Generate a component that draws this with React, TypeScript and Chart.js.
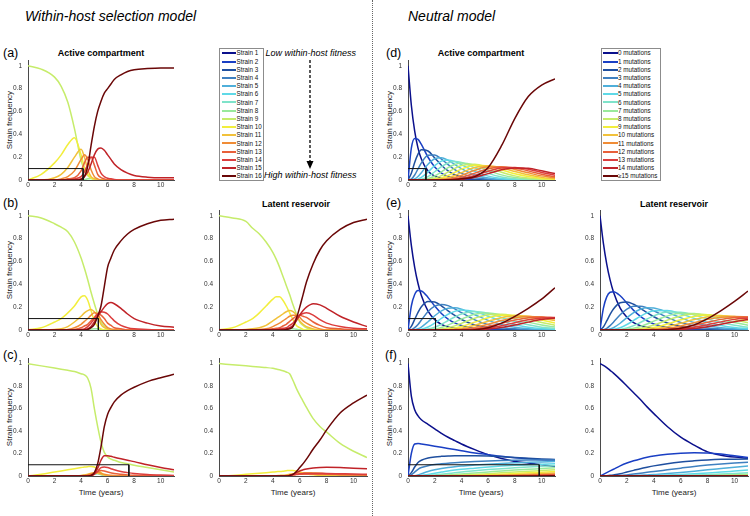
import React, { useEffect, useRef } from "react";
import { Chart, registerables } from "chart.js";
Chart.register(...registerables);

const FONT = '"Liberation Sans", Arial, Helvetica, sans-serif';

// ---------- axes / ticks ----------
const X_TICKS = [0, 2, 4, 6, 8, 10];
const Y_TICKS = [0, 0.2, 0.4, 0.6, 0.8, 1];
const Y_TICK_LABELS = ["0", "0.2", "0.4", "0.6", "0.8", "1"];
const X_MAX = 11;
const Y_MAX = 1.05;

// ---------- colours (strain 1..16 / 0..>=15 mutations) ----------
const COLORS = [
  "#0b108c", "#1a3fc4", "#1f4f9f", "#3f80c0", "#4fafda", "#5fd9e7", "#7fe3ca", "#99e99b",
  "#c6ec6b", "#f2ee3d", "#f2c13a", "#f08c36", "#e8603a", "#dc3d3d", "#c02328", "#6a0707",
];
const STRAIN_LABELS = [
  "Strain 1", "Strain 2", "Strain 3", "Strain 4", "Strain 5", "Strain 6", "Strain 7", "Strain 8",
  "Strain 9", "Strain 10", "Strain 11", "Strain 12", "Strain 13", "Strain 14", "Strain 15", "Strain 16",
];
const MUT_LABELS = [
  "0 mutations", "1 mutations", "2 mutations", "3 mutations", "4 mutations", "5 mutations",
  "6 mutations", "7 mutations", "8 mutations", "9 mutations", "10 mutations", "11 mutations",
  "12 mutations", "13 mutations", "14 mutations", "\u226515 mutations",
];

// ---------- time grids ----------
const TS = [0, 1, 2, 2.5, 3, 3.5, 4, 4.25, 4.5, 4.75, 5, 5.25, 5.5, 5.75, 6, 6.25, 6.5, 7, 7.5, 8, 9, 10, 11];
const TN = [0, 0.25, 0.5, 0.75, 1, 1.5, 2, 2.5, 3, 3.5, 4, 5, 6, 7, 8, 9, 10, 11];

// ---------- drop lines (frequency 0.1) ----------
const DROP_LEVEL = 0.1;
const DROP_A = 4.15;
const DROP_B = 5.3;
const DROP_C = 7.6;
const DROP_D = 1.34;
const DROP_E = 2.06;
const DROP_F = 9.82;

// ---------- (a) selection, active ----------
const aS8 = [0, 0, 0, 0, 0, 0, 0, .004, .01, .014, .01, .004, 0, 0, 0, 0, 0, 0, 0, 0, 0, 0, 0];
const aS9 = [1, .97, .9, .82, .68, .45, .17, .09, .04, .015, .005, 0, 0, 0, 0, 0, 0, 0, 0, 0, 0, 0, 0];
const aS10 = [0, .05, .15, .22, .31, .37, .22, .11, .05, .02, .005, 0, 0, 0, 0, 0, 0, 0, 0, 0, 0, 0, 0];
const aS11 = [0, 0, .02, .05, .11, .2, .27, .2, .09, .03, .01, 0, 0, 0, 0, 0, 0, 0, 0, 0, 0, 0, 0];
const aS12 = [0, 0, 0, .01, .03, .08, .18, .22, .18, .09, .03, .01, 0, 0, 0, 0, 0, 0, 0, 0, 0, 0, 0];
const aS13 = [0, 0, 0, 0, .01, .02, .08, .15, .2, .2, .13, .05, .02, .01, 0, 0, 0, 0, 0, 0, 0, 0, 0];
const aS14 = [0, 0, 0, 0, 0, .01, .03, .07, .14, .2, .2, .13, .06, .03, .015, .01, .005, 0, 0, 0, 0, 0, 0];
const aS15 = [0, 0, 0, 0, 0, 0, .01, .03, .07, .14, .22, .27, .28, .26, .22, .18, .14, .09, .06, .04, .025, .02, .02];
const aS16 = [0, 0, 0, 0, 0, 0, .005, .03, .12, .3, .47, .6, .69, .76, .8, .84, .88, .92, .95, .965, .975, .98, .98];

// ---------- (b) selection, active ----------
const bS8 = [0, 0, 0, 0, 0, 0, 0, 0, .003, .008, .012, .01, .004, 0, 0, 0, 0, 0, 0, 0, 0, 0, 0];
const bS9 = [1, .98, .93, .9, .86, .77, .63, .54, .44, .33, .23, .14, .07, .03, .01, 0, 0, 0, 0, 0, 0, 0, 0];
const bS10 = [0, .02, .07, .1, .15, .21, .29, .3, .26, .17, .08, .03, .01, 0, 0, 0, 0, 0, 0, 0, 0, 0, 0];
const bS11 = [0, 0, .005, .01, .03, .07, .12, .15, .17, .18, .16, .12, .05, .02, .01, 0, 0, 0, 0, 0, 0, 0, 0];
const bS12 = [0, 0, 0, 0, .005, .02, .05, .075, .1, .13, .15, .14, .09, .05, .02, .01, .005, 0, 0, 0, 0, 0, 0];
const bS13 = [0, 0, 0, 0, 0, .005, .02, .035, .05, .08, .11, .14, .13, .1, .06, .04, .02, .01, 0, 0, 0, 0, 0];
const bS14 = [0, 0, 0, 0, 0, 0, .005, .01, .03, .06, .1, .14, .16, .155, .14, .11, .08, .04, .02, .01, .005, 0, 0];
const bS15 = [0, 0, 0, 0, 0, 0, 0, .005, .01, .03, .07, .12, .16, .2, .23, .24, .23, .19, .14, .1, .06, .035, .025];
const bS16 = [0, 0, 0, 0, 0, 0, 0, 0, .005, .02, .05, .12, .21, .38, .55, .63, .7, .78, .84, .88, .93, .96, .97];

// ---------- (b) selection, latent ----------
const bLS8 = [0, 0, 0, 0, 0, 0, 0, 0, 0, .003, .006, .01, .01, .006, .002, 0, 0, 0, 0, 0, 0, 0, 0];
const bLS9 = [1, .98, .95, .89, .84, .77, .68, .62, .55, .47, .39, .31, .22, .14, .07, .04, .02, .005, 0, 0, 0, 0, 0];
const bLS10 = [0, .02, .07, .1, .15, .21, .27, .29, .29, .26, .21, .15, .09, .04, .02, .005, 0, 0, 0, 0, 0, 0, 0];
const bLS11 = [0, 0, .005, .01, .02, .04, .08, .1, .12, .14, .16, .17, .16, .13, .08, .05, .03, .01, 0, 0, 0, 0, 0];
const bLS12 = [0, 0, 0, 0, .005, .01, .03, .045, .06, .08, .1, .12, .13, .13, .11, .08, .06, .03, .01, 0, 0, 0, 0];
const bLS13 = [0, 0, 0, 0, 0, .005, .01, .015, .02, .035, .05, .075, .1, .12, .13, .12, .11, .07, .04, .02, .01, 0, 0];
const bLS14 = [0, 0, 0, 0, 0, 0, 0, .005, .01, .015, .02, .04, .06, .1, .13, .145, .15, .13, .09, .06, .03, .015, .01];
const bLS15 = [0, 0, 0, 0, 0, 0, 0, 0, 0, .005, .01, .02, .04, .08, .13, .17, .2, .23, .22, .19, .12, .07, .03];
const bLS16 = [0, 0, 0, 0, 0, 0, 0, 0, 0, 0, .005, .01, .03, .1, .2, .31, .42, .58, .7, .78, .88, .94, .97];

// ---------- (c) selection, active ----------
const cS7 = [0, 0, 0, 0, 0, 0, 0, 0, 0, .005, .015, .02, .01, .003, 0, 0, 0, 0, 0, 0, 0, 0, 0];
const cS9 = [1, .98, .96, .95, .94, .93, .91, .9, .87, .78, .6, .44, .3, .21, .17, .15, .14, .12, .11, .095, .075, .055, .035];
const cS10 = [0, .015, .035, .045, .055, .065, .075, .08, .083, .085, .08, .06, .03, .01, .003, 0, 0, 0, 0, 0, 0, 0, 0];
const cS11 = [0, 0, 0, 0, 0, .002, .005, .01, .015, .025, .03, .025, .015, .008, .004, .002, .001, 0, 0, 0, 0, 0, 0];
const cS12 = [0, 0, 0, 0, 0, 0, .002, .005, .01, .02, .03, .035, .025, .015, .01, .006, .004, .002, 0, 0, 0, 0, 0];
const cS13 = [0, 0, 0, 0, 0, 0, 0, .002, .005, .012, .025, .04, .05, .045, .035, .028, .022, .015, .01, .007, .004, .002, .001];
const cS14 = [0, 0, 0, 0, 0, 0, 0, 0, .002, .005, .015, .04, .075, .08, .075, .065, .055, .04, .03, .022, .013, .008, .005];
const cS15 = [0, 0, 0, 0, 0, 0, 0, 0, 0, .003, .02, .07, .14, .18, .18, .175, .167, .153, .14, .128, .1, .076, .055];
const cS16 = [0, 0, 0, 0, 0, 0, 0, 0, 0, .005, .03, .11, .26, .44, .55, .61, .66, .72, .76, .79, .84, .875, .905];

// ---------- (c) selection, latent ----------
const cLS9 = [1, .99, .98, .975, .97, .965, .958, .952, .945, .937, .925, .91, .85, .78, .72, .665, .61, .51, .44, .39, .29, .22, .165];
const cLS10 = [0, .005, .015, .02, .025, .03, .035, .038, .04, .043, .047, .05, .05, .045, .035, .028, .02, .01, .007, .005, .002, 0, 0];
const cLS11 = [0, 0, 0, 0, 0, 0, .002, .003, .005, .007, .01, .015, .02, .025, .028, .03, .03, .027, .024, .02, .015, .01, .008];
const cLS12 = [0, 0, 0, 0, 0, 0, 0, 0, 0, .002, .004, .008, .012, .015, .017, .018, .018, .017, .016, .015, .013, .011, .01];
const cLS13 = [0, 0, 0, 0, 0, 0, 0, 0, 0, 0, .002, .005, .01, .013, .015, .015, .015, .015, .014, .013, .012, .011, .01];
const cLS14 = [0, 0, 0, 0, 0, 0, 0, 0, 0, 0, 0, .003, .01, .015, .02, .023, .025, .025, .024, .023, .02, .017, .015];
const cLS15 = [0, 0, 0, 0, 0, 0, 0, 0, 0, 0, 0, .005, .015, .03, .045, .055, .063, .072, .076, .077, .075, .07, .065];
const cLS16 = [0, 0, 0, 0, 0, 0, 0, 0, 0, 0, 0, .005, .015, .04, .075, .11, .15, .24, .32, .41, .56, .65, .72];

// ---------- (d) neutral, active ----------
const dK0 = [1, .654, .427, .279, .183, .078, .033, .014, .006, .003, .001, 0, 0, 0, 0, 0, 0, 0];
const dK1 = [0, .278, .363, .356, .311, .199, .114, .061, .031, .016, .008, .002, 0, 0, 0, 0, 0, 0];
const dK2 = [0, .059, .154, .227, .264, .254, .193, .129, .079, .046, .026, .007, .002, 0, 0, 0, 0, 0];
const dK3 = [0, .008, .044, .097, .15, .216, .219, .183, .135, .091, .058, .021, .007, .002, .001, 0, 0, 0];
const dK4 = [0, .001, .009, .031, .064, .138, .186, .194, .172, .136, .099, .044, .017, .006, .002, .001, 0, 0];
const dK5 = [0, 0, .002, .008, .022, .07, .126, .165, .175, .162, .135, .075, .034, .013, .005, .002, 0, 0];
const dK6 = [0, 0, 0, .002, .006, .03, .072, .117, .149, .161, .153, .107, .058, .027, .011, .004, .001, 0];
const dK7 = [0, 0, 0, 0, .001, .011, .035, .071, .109, .136, .149, .129, .085, .045, .021, .009, .003, .001];
const dK8 = [0, 0, 0, 0, 0, .003, .015, .038, .069, .102, .126, .138, .108, .068, .036, .017, .007, .003];
const dK9 = [0, 0, 0, 0, 0, .001, .006, .018, .039, .067, .095, .13, .122, .09, .054, .03, .014, .006];
const dK10 = [0, 0, 0, 0, 0, 0, .002, .008, .02, .04, .065, .11, .125, .107, .074, .045, .023, .011];
const dK11 = [0, 0, 0, 0, 0, 0, .001, .003, .009, .022, .04, .085, .116, .115, .092, .063, .036, .019];
const dK12 = [0, 0, 0, 0, 0, 0, 0, .001, .004, .011, .023, .06, .098, .114, .104, .08, .05, .029];
const dK13 = [0, 0, 0, 0, 0, 0, 0, 0, .002, .005, .012, .04, .077, .105, .109, .094, .066, .042];
const dK14 = [0, 0, 0, 0, 0, 0, 0, 0, .001, .002, .006, .024, .056, .089, .105, .103, .08, .056];
const dK15 = [0, 0, 0, 0, 0, 0, 0, 0, .002, .004, .01, .03, .11, .3, .54, .73, .83, .885];

// ---------- (e) neutral, active ----------
const eK0 = [1, .741, .549, .407, .301, .165, .091, .05, .027, .015, .008, .002, .001, 0, 0, 0, 0, 0];
const eK1 = [0, .21, .31, .345, .342, .285, .21, .145, .096, .062, .039, .015, .005, .002, .001, 0, 0, 0];
const eK2 = [0, .031, .093, .155, .204, .25, .245, .212, .168, .127, .092, .044, .019, .008, .003, .001, 0, 0];
const eK3 = [0, .003, .02, .049, .087, .161, .209, .224, .213, .185, .152, .089, .047, .022, .01, .004, .002, .001];
const eK4 = [0, 0, .003, .011, .026, .072, .125, .168, .191, .194, .182, .134, .084, .047, .024, .012, .005, .002];
const eK5 = [0, 0, 0, .002, .006, .026, .06, .101, .138, .163, .175, .161, .12, .078, .046, .025, .013, .006];
const eK6 = [0, 0, 0, 0, .001, .008, .024, .05, .083, .114, .14, .161, .145, .11, .074, .045, .025, .014];
const eK7 = [0, 0, 0, 0, 0, .002, .008, .022, .043, .069, .096, .138, .149, .132, .101, .069, .044, .026];
const eK8 = [0, 0, 0, 0, 0, 0, .002, .008, .019, .036, .058, .103, .134, .138, .121, .094, .066, .042];
const eK9 = [0, 0, 0, 0, 0, 0, .001, .003, .008, .017, .031, .069, .107, .129, .129, .112, .087, .062];
const eK10 = [0, 0, 0, 0, 0, 0, 0, .001, .003, .007, .015, .041, .077, .108, .124, .121, .105, .082];
const eK11 = [0, 0, 0, 0, 0, 0, 0, 0, .001, .003, .006, .023, .05, .083, .108, .119, .114, .098];
const eK12 = [0, 0, 0, 0, 0, 0, 0, 0, 0, .001, .003, .011, .03, .058, .087, .107, .114, .108];
const eK13 = [0, 0, 0, 0, 0, 0, 0, 0, 0, 0, .001, .005, .017, .038, .064, .089, .106, .11];
const eK14 = [0, 0, 0, 0, 0, 0, 0, 0, 0, 0, 0, .002, .009, .023, .044, .069, .091, .104];
const eK15 = [0, 0, 0, 0, 0, 0, 0, 0, 0, 0, 0, .003, .02, .06, .12, .19, .27, .37];

// ---------- (e) neutral, latent ----------
const rK0 = [1, .76, .577, .438, .333, .192, .111, .064, .037, .021, .012, .004, .001, 0, 0, 0, 0, 0];
const rK1 = [0, .19, .29, .33, .335, .3, .235, .172, .12, .081, .053, .023, .009, .004, .001, .001, 0, 0];
const rK2 = [0, .026, .079, .136, .184, .238, .245, .225, .19, .152, .116, .061, .03, .013, .006, .003, .001, 0];
const rK3 = [0, .003, .015, .038, .068, .133, .183, .207, .208, .193, .168, .111, .065, .035, .017, .008, .004, .002];
const rK4 = [0, 0, .002, .009, .02, .059, .108, .152, .182, .195, .192, .156, .108, .066, .038, .02, .01, .005];
const rK5 = [0, 0, 0, .001, .005, .02, .048, .084, .12, .15, .169, .171, .142, .102, .066, .04, .022, .012];
const rK6 = [0, 0, 0, 0, .001, .005, .017, .038, .066, .096, .124, .157, .156, .131, .097, .065, .041, .024];
const rK7 = [0, 0, 0, 0, 0, .001, .006, .015, .031, .053, .078, .123, .147, .144, .122, .093, .065, .042];
const rK8 = [0, 0, 0, 0, 0, 0, .002, .005, .013, .026, .043, .085, .122, .139, .134, .115, .089, .063];
const rK9 = [0, 0, 0, 0, 0, 0, 0, .002, .005, .011, .021, .052, .089, .119, .132, .126, .109, .085];
const rK10 = [0, 0, 0, 0, 0, 0, 0, 0, .002, .004, .009, .029, .059, .091, .116, .125, .119, .103];
const rK11 = [0, 0, 0, 0, 0, 0, 0, 0, .001, .002, .004, .014, .035, .064, .093, .112, .119, .113];
const rK12 = [0, 0, 0, 0, 0, 0, 0, 0, 0, .001, .001, .007, .019, .041, .068, .093, .109, .114];
const rK13 = [0, 0, 0, 0, 0, 0, 0, 0, 0, 0, .001, .003, .01, .024, .046, .071, .093, .106];
const rK14 = [0, 0, 0, 0, 0, 0, 0, 0, 0, 0, 0, .001, .005, .013, .029, .05, .073, .092];
const rK15 = [0, 0, 0, 0, 0, 0, 0, 0, 0, 0, 0, .003, .015, .045, .1, .17, .25, .34];

// ---------- (f) neutral, active ----------
const fK0 = [1, .71, .59, .535, .5, .46, .42, .38, .345, .315, .285, .235, .19, .155, .13, .115, .1, .085];
const fK1 = [0, .2, .285, .29, .285, .275, .265, .255, .245, .235, .225, .205, .19, .175, .163, .153, .145, .14];
const fK2 = [0, .03, .08, .12, .14, .16, .17, .175, .178, .18, .18, .18, .178, .172, .165, .158, .152, .147];
const fK3 = [0, .01, .035, .06, .075, .092, .102, .108, .113, .118, .122, .128, .133, .137, .14, .142, .143, .143];
const fK4 = [0, 0, .003, .01, .02, .04, .055, .066, .075, .082, .088, .097, .105, .112, .117, .122, .125, .128];
const fK5 = [0, 0, 0, .002, .005, .014, .025, .035, .045, .053, .06, .07, .08, .088, .095, .1, .105, .11];
const fK6 = [0, 0, 0, 0, .001, .004, .01, .016, .022, .029, .035, .047, .057, .065, .073, .08, .086, .092];
const fK7 = [0, 0, 0, 0, 0, .001, .003, .006, .01, .014, .018, .027, .036, .045, .053, .06, .066, .073];
const fK8 = [0, 0, 0, 0, 0, 0, .001, .002, .004, .006, .008, .014, .021, .028, .035, .042, .048, .055];
const fK9 = [0, 0, 0, 0, 0, 0, 0, .001, .001, .002, .003, .006, .011, .016, .022, .028, .034, .04];
const fK10 = [0, 0, 0, 0, 0, 0, 0, 0, 0, .001, .001, .003, .005, .008, .012, .017, .022, .027];
const fK11 = [0, 0, 0, 0, 0, 0, 0, 0, 0, 0, 0, .001, .002, .004, .006, .009, .013, .017];
const fK12 = [0, 0, 0, 0, 0, 0, 0, 0, 0, 0, 0, 0, .001, .002, .003, .005, .007, .01];
const fK13 = [0, 0, 0, 0, 0, 0, 0, 0, 0, 0, 0, 0, 0, .001, .001, .002, .004, .006];
const fK14 = [0, 0, 0, 0, 0, 0, 0, 0, 0, 0, 0, 0, 0, 0, .001, .001, .002, .003];
const fK15 = [0, 0, 0, 0, 0, 0, 0, 0, 0, 0, 0, 0, 0, 0, 0, 0, .001, .002];

// ---------- (f) neutral, latent ----------
const gK0 = [1, .985, .965, .94, .915, .86, .8, .74, .68, .615, .555, .44, .345, .275, .215, .185, .168, .158];
const gK1 = [0, .015, .03, .045, .06, .09, .115, .135, .152, .166, .177, .193, .203, .207, .205, .195, .18, .165];
const gK2 = [0, .001, .003, .006, .01, .02, .035, .05, .065, .078, .09, .11, .125, .135, .143, .148, .15, .152];
const gK3 = [0, 0, 0, .001, .002, .005, .01, .017, .025, .033, .04, .055, .07, .085, .097, .107, .115, .122];
const gK4 = [0, 0, 0, 0, 0, .001, .003, .005, .007, .01, .013, .022, .032, .043, .055, .066, .077, .088];
const gK5 = [0, 0, 0, 0, 0, 0, .001, .001, .002, .003, .004, .008, .013, .019, .027, .035, .044, .053];
const gK6 = [0, 0, 0, 0, 0, 0, 0, 0, 0, .001, .001, .003, .005, .008, .012, .017, .023, .03];
const gK7 = [0, 0, 0, 0, 0, 0, 0, 0, 0, 0, 0, .001, .002, .003, .005, .008, .011, .015];
const gK8 = [0, 0, 0, 0, 0, 0, 0, 0, 0, 0, 0, 0, .001, .001, .002, .003, .005, .007];
const gK9 = [0, 0, 0, 0, 0, 0, 0, 0, 0, 0, 0, 0, 0, 0, .001, .001, .002, .003];
const gKrest = [0, 0, 0, 0, 0, 0, 0, 0, 0, 0, 0, 0, 0, 0, 0, 0, 0, 0];

type Series = { k: number; values: number[] };
type PanelSpec = {
  id: string;
  time: number[];
  series: Series[];
  drop: number | null;
  cl: number; cr: number; ct: number; cb: number;
};

const ser = (list: number[][], firstK: number): Series[] => list.map((v, i) => ({ k: firstK + i, values: v }));

const PANELS: PanelSpec[] = [
  { id: "a", time: TS, series: ser([aS8, aS9, aS10, aS11, aS12, aS13, aS14, aS15, aS16], 7), drop: DROP_A, cl: 28, cr: 174, ct: 60, cb: 180 },
  { id: "bA", time: TS, series: ser([bS8, bS9, bS10, bS11, bS12, bS13, bS14, bS15, bS16], 7), drop: DROP_B, cl: 28, cr: 174, ct: 210, cb: 330 },
  { id: "bL", time: TS, series: ser([bLS8, bLS9, bLS10, bLS11, bLS12, bLS13, bLS14, bLS15, bLS16], 7), drop: null, cl: 219, cr: 367, ct: 210, cb: 330 },
  { id: "cA", time: TS, series: [{ k: 6, values: cS7 }, ...ser([cS9, cS10, cS11, cS12, cS13, cS14, cS15, cS16], 8)], drop: DROP_C, cl: 28, cr: 174, ct: 358, cb: 476 },
  { id: "cL", time: TS, series: ser([cLS9, cLS10, cLS11, cLS12, cLS13, cLS14, cLS15, cLS16], 8), drop: null, cl: 219, cr: 367, ct: 358, cb: 476 },
  { id: "d", time: TN, series: ser([dK0, dK1, dK2, dK3, dK4, dK5, dK6, dK7, dK8, dK9, dK10, dK11, dK12, dK13, dK14, dK15], 0), drop: DROP_D, cl: 408, cr: 555, ct: 60, cb: 180 },
  { id: "eA", time: TN, series: ser([eK0, eK1, eK2, eK3, eK4, eK5, eK6, eK7, eK8, eK9, eK10, eK11, eK12, eK13, eK14, eK15], 0), drop: DROP_E, cl: 408, cr: 555, ct: 210, cb: 330 },
  { id: "eL", time: TN, series: ser([rK0, rK1, rK2, rK3, rK4, rK5, rK6, rK7, rK8, rK9, rK10, rK11, rK12, rK13, rK14, rK15], 0), drop: null, cl: 600, cr: 748, ct: 210, cb: 330 },
  { id: "fA", time: TN, series: ser([fK0, fK1, fK2, fK3, fK4, fK5, fK6, fK7, fK8, fK9, fK10, fK11, fK12, fK13, fK14, fK15], 0), drop: DROP_F, cl: 408, cr: 555, ct: 358, cb: 476 },
  { id: "fL", time: TN, series: ser([gK0, gK1, gK2, gK3, gK4, gK5, gK6, gK7, gK8, gK9, gKrest, gKrest, gKrest, gKrest, gKrest, gKrest], 0), drop: null, cl: 600, cr: 748, ct: 358, cb: 476 },
];

const Y_AXIS_W = 22;
const X_AXIS_H = 14;
const PAD_T = 2;
const PAD_R = 2;

function Panel({ spec }: { spec: PanelSpec }) {
  const ref = useRef<HTMLCanvasElement>(null);
  const L = spec.cl - Y_AXIS_W;
  const T = spec.ct - PAD_T;
  const W = spec.cr + PAD_R - L;
  const H = spec.cb + X_AXIS_H - T;

  useEffect(() => {
    if (!ref.current) return;
    const datasets: any[] = spec.series.map((s) => ({
      data: spec.time.map((t, i) => ({ x: t, y: s.values[i] })),
      borderColor: COLORS[s.k],
      borderWidth: 1.5,
      pointRadius: 0,
      fill: false,
      cubicInterpolationMode: "monotone",
      order: 16 - s.k,
    }));
    if (spec.drop !== null) {
      datasets.push({
        data: [
          { x: 0, y: DROP_LEVEL },
          { x: spec.drop, y: DROP_LEVEL },
          { x: spec.drop, y: 0 },
        ],
        borderColor: "#111",
        borderWidth: 1,
        pointRadius: 0,
        fill: false,
        tension: 0,
        order: -1,
      });
    }
    const tickFont = { family: FONT, size: 6.5 };
    const chart = new Chart(ref.current, {
      type: "line",
      data: { datasets },
      options: {
        animation: false,
        responsive: false,
        maintainAspectRatio: false,
        devicePixelRatio: 1,
        events: [],
        layout: { padding: { top: PAD_T, right: PAD_R, left: 0, bottom: 0 } },
        plugins: { legend: { display: false }, tooltip: { enabled: false }, title: { display: false } },
        scales: {
          x: {
            type: "linear",
            min: 0,
            max: X_MAX,
            grid: { display: false, drawTicks: false },
            border: { display: true, color: "#4a4a4a", width: 1 },
            ticks: { font: tickFont, color: "#333", padding: 1.5, autoSkip: false, maxRotation: 0 },
            afterBuildTicks: (s: any) => { s.ticks = X_TICKS.map((v) => ({ value: v })); },
            afterFit: (s: any) => { s.height = X_AXIS_H; s.paddingLeft = 0; s.paddingRight = 0; },
          },
          y: {
            type: "linear",
            min: 0,
            max: Y_MAX,
            grid: { display: false, drawTicks: false },
            border: { display: true, color: "#4a4a4a", width: 1 },
            ticks: {
              font: tickFont, color: "#333", padding: 6, autoSkip: false,
              callback: (_v: any, i: number) => Y_TICK_LABELS[i],
            },
            afterBuildTicks: (s: any) => { s.ticks = Y_TICKS.map((v) => ({ value: v })); },
            afterFit: (s: any) => { s.width = Y_AXIS_W; s.paddingTop = 0; s.paddingBottom = 0; },
          },
        },
      } as any,
    });
    return () => chart.destroy();
  }, []);

  return (
    <canvas
      ref={ref}
      width={W}
      height={H}
      style={{ position: "absolute", left: L, top: T, width: W, height: H }}
    />
  );
}

function Txt(props: {
  x: number; y: number; size: number; children: React.ReactNode;
  bold?: boolean; italic?: boolean; center?: boolean; rotate?: boolean; color?: string;
}) {
  const { x, y, size, bold, italic, center, rotate, color } = props;
  let transform = center ? "translate(-50%, -50%)" : "translate(0, -50%)";
  if (rotate) transform = "translate(-50%, -50%) rotate(-90deg)";
  return (
    <div
      style={{
        position: "absolute", left: x, top: y, fontSize: size, lineHeight: 1,
        fontWeight: bold ? "bold" : "normal", fontStyle: italic ? "italic" : "normal",
        whiteSpace: "nowrap", transform, color: color || "#000", fontFamily: FONT,
      }}
    >
      {props.children}
    </div>
  );
}

function Legend({ left, top, width, height, labels }: { left: number; top: number; width: number; height: number; labels: string[] }) {
  const pitch = (height - 9.5) / (labels.length - 1);
  return (
    <div
      style={{
        position: "absolute", left, top, width, height, boxSizing: "border-box",
        border: "1px solid #8c8c8c", background: "#fff",
      }}
    >
      {labels.map((lab, i) => {
        const cy = 4.3 + i * pitch;
        return (
          <React.Fragment key={lab}>
            <div style={{ position: "absolute", left: 1.5, top: Math.round(cy - 1), width: 14.5, height: 2, background: COLORS[i] }} />
            <div
              style={{
                position: "absolute", left: 16.5, top: cy, transform: "translateY(-50%)",
                fontSize: 6.3, lineHeight: 1, whiteSpace: "nowrap", fontFamily: FONT, color: "#111",
              }}
            >
              {lab}
            </div>
          </React.Fragment>
        );
      })}
    </div>
  );
}

export default function App() {
  return (
    <div
      style={{
        position: "absolute", left: 0, top: 0, width: 750, height: 516, overflow: "hidden",
        background: "#fff", fontFamily: FONT,
      }}
    >
      <div style={{ position: "absolute", left: 372, top: 0, width: 0, height: 516, borderLeft: "1px dotted #666" }} />

      <Txt x={25} y={16} size={14} italic>Within-host selection model</Txt>
      <Txt x={408} y={16} size={14} italic>Neutral model</Txt>

      <Txt x={3} y={52.5} size={12.5}>(a)</Txt>
      <Txt x={3} y={203} size={12.5}>(b)</Txt>
      <Txt x={3} y={355} size={12.5}>(c)</Txt>
      <Txt x={386} y={52.5} size={12.5}>(d)</Txt>
      <Txt x={386} y={203} size={12.5}>(e)</Txt>
      <Txt x={385} y={355} size={12.5}>(f)</Txt>

      <Txt x={101} y={53} size={9} bold center>Active compartment</Txt>
      <Txt x={481} y={53} size={9} bold center>Active compartment</Txt>
      <Txt x={296} y={203.5} size={9} bold center>Latent reservoir</Txt>
      <Txt x={674} y={203.5} size={9} bold center>Latent reservoir</Txt>

      <Txt x={10} y={120} size={8} rotate color="#222">Strain frequency</Txt>
      <Txt x={10} y={270} size={8} rotate color="#222">Strain frequency</Txt>
      <Txt x={10} y={417} size={8} rotate color="#222">Strain frequency</Txt>
      <Txt x={390} y={120} size={8} rotate color="#222">Strain frequency</Txt>
      <Txt x={390} y={270} size={8} rotate color="#222">Strain frequency</Txt>
      <Txt x={390} y={417} size={8} rotate color="#222">Strain frequency</Txt>

      <Txt x={101} y={493} size={8} center color="#222">Time (years)</Txt>
      <Txt x={293} y={493} size={8} center color="#222">Time (years)</Txt>
      <Txt x={481} y={493} size={8} center color="#222">Time (years)</Txt>
      <Txt x={674} y={493} size={8} center color="#222">Time (years)</Txt>

      {PANELS.map((p) => <Panel key={p.id} spec={p} />)}

      <Legend left={219} top={48} width={44.5} height={132.5} labels={STRAIN_LABELS} />
      <Legend left={600.5} top={48} width={60} height={132.5} labels={MUT_LABELS} />

      <Txt x={265.5} y={52.7} size={9} italic>Low within-host fitness</Txt>
      <Txt x={264} y={174.7} size={9} italic>High within-host fitness</Txt>
      <svg style={{ position: "absolute", left: 300, top: 56, width: 20, height: 118 }}>
        <line x1={10} y1={4} x2={10} y2={106} stroke="#000" strokeWidth={1.3} strokeDasharray="3 2" />
        <polygon points="6.5,105 13.5,105 10,113" fill="#000" />
      </svg>
    </div>
  );
}
